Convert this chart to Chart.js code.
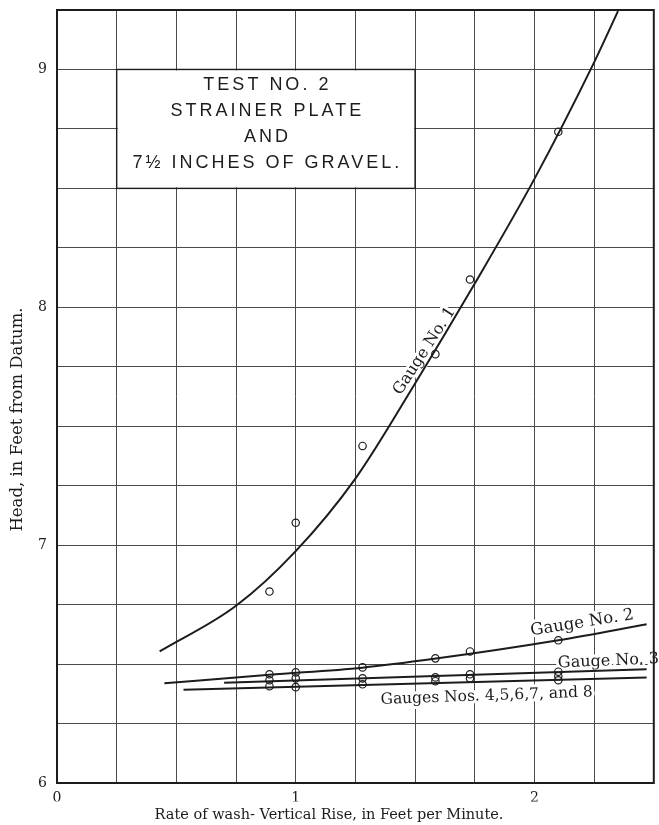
<!DOCTYPE html>
<html>
<head>
<meta charset="utf-8">
<title>Test No. 2 - Strainer Plate and Gravel</title>
<script src="https://cdn.jsdelivr.net/npm/chart.js@4/dist/chart.umd.min.js"></script>
<style>
  html, body { margin: 0; padding: 0; background: #fff; }
  #wrap { width: 659px; height: 825px; }
</style>
</head>
<body>
<div id="wrap"><canvas id="washChart" width="659" height="825"></canvas></div>
<script>
// rates of wash the gauges were read at (ft per minute)
const rates = [0.89, 1.0, 1.28, 1.585, 1.73, 2.1]
const gauge1 = [6.805, 7.094, 7.417, 7.803, 8.117, 8.738]
const gauge2 = [6.457, 6.465, 6.486, 6.524, 6.553, 6.600]
const gauge3 = [6.432, 6.440, 6.440, 6.444, 6.457, 6.468]
// gauges 4-8 have two readings at the last rate
const groupRates = [0.89, 1.0, 1.28, 1.585, 1.73, 2.1, 2.1]
const gauges4to8 = [6.407, 6.403, 6.415, 6.428, 6.440, 6.432, 6.449]

// faired curves through the readings
const curve1X = [0.43, 0.75, 1.0, 1.25, 1.5, 1.75, 2.0, 2.25, 2.35]
const curve1Y = [6.553, 6.745, 6.975, 7.28, 7.68, 8.10, 8.54, 9.03, 9.245]
const curve2X = [0.45, 0.89, 1.28, 1.58, 2.1, 2.47]
const curve2Y = [6.419, 6.455, 6.485, 6.522, 6.600, 6.667]
const curve3X = [0.70, 2.47]
const curve3Y = [6.422, 6.478]
const curve4X = [0.53, 2.47]
const curve4Y = [6.392, 6.444]

const xTicks = [0, 1, 2]
const yTicks = [6, 7, 8, 9]

const headLines = ['TEST NO. 2', 'STRAINER PLATE', 'AND', '7\u00bd INCHES OF GRAVEL.']
const yTitle = 'Head, in Feet from Datum.'

const pts = (xs, ys) => xs.map((v, i) => ({x: v, y: ys[i]}))

const ink = '#1c1c1c'
const serif = '"DejaVu Serif", serif'

function curve(xs, ys) {
    return {
        data: pts(xs, ys),
        showLine: true,
        borderColor: ink,
        borderWidth: 2,
        pointRadius: 0,
        cubicInterpolationMode: 'monotone'
    }
}

function readings(xs, ys) {
    return {
        data: pts(xs, ys),
        showLine: false,
        pointStyle: 'circle',
        pointRadius: 3.7,
        borderWidth: 1.2,
        borderColor: ink,
        backgroundColor: 'rgba(0,0,0,0)'
    }
}

// gauge names written along the lines
const notes = [
    {text: 'Gauge No. 1', x: 1.54, y: 7.816, angle: -57, size: 16},
    {text: 'Gauge No. 2', x: 2.2, y: 6.673, angle: -9, size: 16.5},
    {text: 'Gauge No. 3', x: 2.31, y: 6.512, angle: -2.5, size: 16},
    {text: 'Gauges Nos. 4,5,6,7, and 8', x: 1.80, y: 6.365, angle: -2, size: 15.5}
]

const panel = {
    id: 'panel',
    beforeDatasetsDraw(chart) {
        const {ctx, chartArea: a, scales: {x, y}} = chart
        ctx.save()

        // heading box over the upper left squares
        const l = x.getPixelForValue(0.25), r = x.getPixelForValue(1.5)
        const t = y.getPixelForValue(9.0), b = y.getPixelForValue(8.5)
        ctx.fillStyle = '#fff'
        ctx.fillRect(l + 1, t + 1, r - l - 2, b - t - 2)
        ctx.strokeStyle = ink
        ctx.lineWidth = 1.4
        ctx.strokeRect(l, t, r - l, b - t)

        ctx.fillStyle = ink
        ctx.font = '18px "Liberation Sans", Arial, sans-serif'
        ctx.letterSpacing = '3px'
        ctx.textAlign = 'center'
        ctx.textBaseline = 'middle'
        headLines.forEach((s, i) => ctx.fillText(s, (l + r) / 2 + 1.5, t + 16 + i * 26))
        ctx.letterSpacing = '0px'

        // gauge labels, knocked out of the grid
        notes.forEach(n => {
            ctx.save()
            ctx.translate(x.getPixelForValue(n.x), y.getPixelForValue(n.y))
            ctx.rotate(n.angle * Math.PI / 180)
            ctx.font = n.size + 'px ' + serif
            ctx.lineJoin = 'round'
            ctx.strokeStyle = '#fff'
            ctx.lineWidth = 6
            ctx.strokeText(n.text, 0, 0)
            ctx.fillStyle = ink
            ctx.fillText(n.text, 0, 0)
            ctx.restore()
        })

        // heavy frame
        ctx.strokeStyle = ink
        ctx.lineWidth = 2
        ctx.strokeRect(a.left, a.top, a.right - a.left, a.bottom - a.top)

        // vertical axis title, set a little below the middle
        ctx.translate(18, (a.top + a.bottom) / 2 + 23)
        ctx.rotate(-Math.PI / 2)
        ctx.font = '16.5px ' + serif
        ctx.fillText(yTitle, 0, 0)
        ctx.restore()
    }
}

function noPad(scale) {
    scale.paddingTop = 0
    scale.paddingBottom = 0
    scale.paddingLeft = 0
    scale.paddingRight = 0
}

const ctx = document.getElementById('washChart').getContext('2d')
new Chart(ctx, {
    type: 'scatter',
    data: {
        datasets: [
            readings(rates, gauge1),
            readings(rates, gauge2),
            readings(rates, gauge3),
            readings(groupRates, gauges4to8),
            curve(curve1X, curve1Y),
            curve(curve2X, curve2Y),
            curve(curve3X, curve3Y),
            curve(curve4X, curve4Y)
        ]
    },
    options: {
        responsive: false,
        animation: false,
        layout: {padding: {top: 10, right: 1, left: 0, bottom: 0}},
        plugins: {
            legend: {display: false},
            tooltip: {enabled: false},
            title: {
                display: true,
                position: 'bottom',
                text: 'Rate of wash- Vertical Rise, in Feet per Minute.',
                color: ink,
                font: {family: serif, size: 14.5, weight: 'normal'},
                padding: {top: 5, bottom: 1}
            }
        },
        scales: {
            x: {
                type: 'linear',
                min: 0,
                max: 2.5,
                grid: {color: '#4a4a4a', lineWidth: 1, drawTicks: false},
                border: {display: false},
                ticks: {
                    stepSize: 0.25,
                    autoSkip: false,
                    maxRotation: 0,
                    padding: 7,
                    color: ink,
                    font: {family: serif, size: 14},
                    callback: v => xTicks.includes(v) ? String(v) : ''
                },
                afterFit(scale) {
                    scale.height = 825 - 783 - 23.4
                    noPad(scale)
                }
            },
            y: {
                type: 'linear',
                min: 6,
                max: 9.25,
                grid: {color: '#4a4a4a', lineWidth: 1, drawTicks: false},
                border: {display: false},
                ticks: {
                    stepSize: 0.25,
                    autoSkip: false,
                    padding: 10,
                    color: ink,
                    font: {family: serif, size: 14},
                    callback: v => yTicks.includes(v) ? String(v) : ''
                },
                afterFit(scale) {
                    scale.width = 57
                    noPad(scale)
                }
            }
        }
    },
    plugins: [panel]
})
</script>
</body>
</html>
